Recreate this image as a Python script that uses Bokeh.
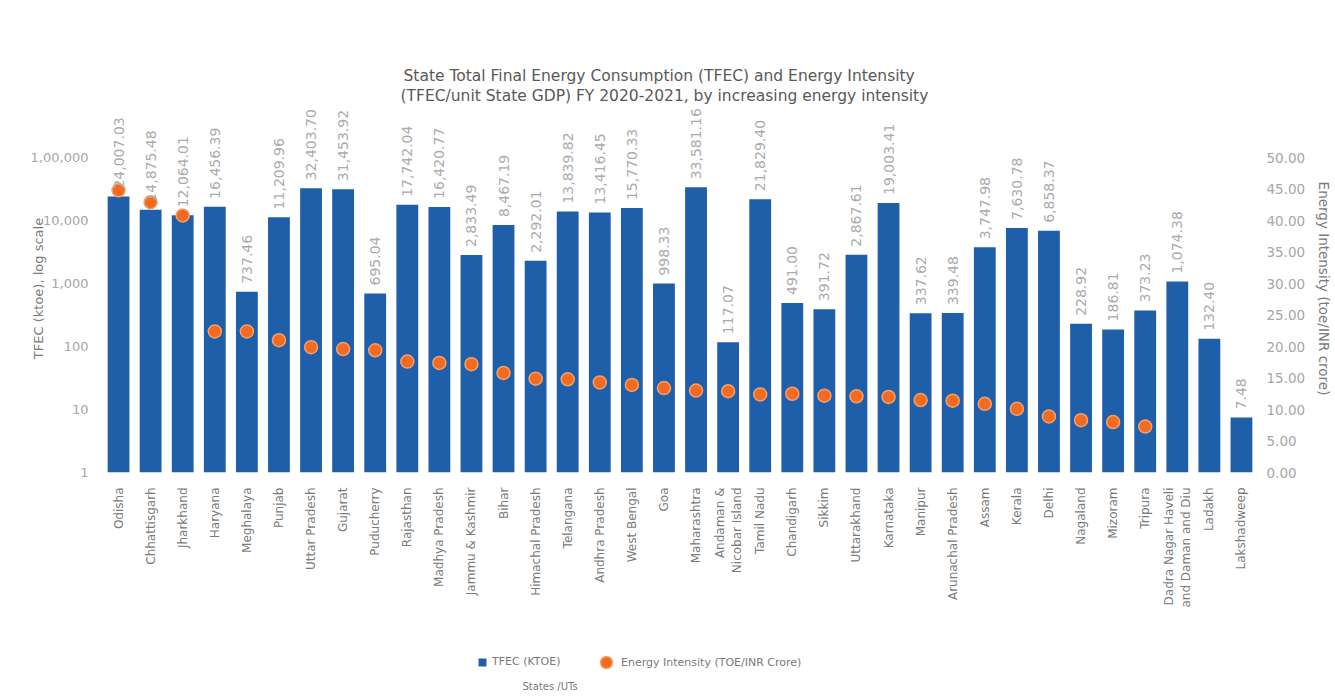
import math
from bokeh.plotting import figure
from bokeh.layouts import column
from bokeh.models import (ColumnDataSource, Range1d, LinearAxis, LinearScale,
                          FixedTicker, NumeralTickFormatter, LabelSet, Legend,
                          LegendItem, Title, Label, FactorRange)
from bokeh.core.properties import value
from bokeh.embed import file_html
from bokeh.resources import INLINE

states = [
    "Odisha", "Chhattisgarh", "Jharkhand", "Haryana", "Meghalaya", "Punjab",
    "Uttar Pradesh", "Gujarat", "Puducherry", "Rajasthan", "Madhya Pradesh",
    "Jammu & Kashmir", "Bihar", "Himachal Pradesh", "Telangana",
    "Andhra Pradesh", "West Bengal", "Goa", "Maharashtra",
    "Andaman &\nNicobar Island", "Tamil Nadu", "Chandigarh", "Sikkim",
    "Uttarakhand", "Karnataka", "Manipur", "Arunachal Pradesh", "Assam",
    "Kerala", "Delhi", "Nagaland", "Mizoram", "Tripura",
    "Dadra Nagar Haveli\nand Daman and Diu", "Ladakh", "Lakshadweep",
]

tfec = [
    24007.03, 14875.48, 12064.01, 16456.39, 737.46, 11209.96,
    32403.70, 31453.92, 695.04, 17742.04, 16420.77,
    2833.49, 8467.19, 2292.01, 13839.82,
    13416.45, 15770.33, 998.33, 33581.16,
    117.07, 21829.40, 491.00, 391.72,
    2867.61, 19003.41, 337.62, 339.48, 3747.98,
    7630.78, 6858.37, 228.92, 186.81, 373.23,
    1074.38, 132.40, 7.48,
]

# Energy intensity (toe / INR crore); the last three states have no value
intensity = [
    44.8, 42.9, 40.8, 22.4, 22.4, 21.0,
    19.9, 19.6, 19.4, 17.6, 17.4,
    17.2, 15.8, 14.9, 14.8,
    14.3, 13.9, 13.4, 13.0,
    12.9, 12.4, 12.5, 12.2,
    12.1, 12.0, 11.5, 11.4, 10.9,
    10.1, 8.9, 8.3, 8.0, 7.3,
]

left_ticks = [1, 10, 100, 1000, 10000, 100000]
left_tick_labels = ["1", "10", "100", "1,000", "10,000", "1,00,000"]
right_ticks = [0, 5, 10, 15, 20, 25, 30, 35, 40, 45, 50]

FONT = "DejaVu Sans"
BAR_COLOR = "#1f5ea8"
DOT_COLOR = "#f26b21"
DOT_EDGE = "#f5a06a"

# Head-room above the top ticks so that the value labels fit inside the frame
HEADROOM = 53 / 315  # fraction of the tick span
left_end = 10 ** (5 * (1 + HEADROOM))
right_end = 50 * (1 + HEADROOM)

bar_src = ColumnDataSource(dict(
    state=states,
    tfec=tfec,
    label=[f"{v:,.2f}" for v in tfec],
))
dot_src = ColumnDataSource(dict(
    state=states[:len(intensity)],
    ei=intensity,
))

p = figure(
    width=1335, height=610,
    x_range=FactorRange(*states, range_padding=0),
    y_axis_type="log", y_range=Range1d(1, left_end),
    output_backend="svg", toolbar_location=None,
    min_border_left=102, min_border_right=75,
    min_border_top=104, min_border_bottom=138,
)
p.extra_y_ranges = {"ei": Range1d(0, right_end)}
p.extra_y_scales = {"ei": LinearScale()}

bars = p.vbar(x="state", top="tfec", bottom=1, width=0.68, source=bar_src,
              fill_color=BAR_COLOR, line_color=None)
dots = p.scatter(x="state", y="ei", source=dot_src, y_range_name="ei",
                 size=13, fill_color=DOT_COLOR, line_color=DOT_EDGE,
                 line_width=1.5)

labels = LabelSet(x="state", y="tfec", text="label", source=bar_src,
                  angle=math.pi / 2, text_align="left", text_baseline="middle",
                  y_offset=8, text_font=value(FONT), text_font_size="14px",
                  text_color="#ababab")
p.add_layout(labels)

p.xgrid.visible = False
p.ygrid.visible = False
p.outline_line_color = None

xa = p.xaxis[0]
xa.major_label_orientation = math.pi / 2
xa.axis_line_color = None
xa.major_tick_line_color = None
xa.minor_tick_line_color = None
xa.major_label_text_font = FONT
xa.major_label_text_font_size = "12px"
xa.major_label_text_color = "#7a7a7a"
xa.major_label_standoff = 9

ya = p.yaxis[0]
ya.ticker = FixedTicker(ticks=left_ticks)
ya.major_label_overrides = {t: s for t, s in zip(left_ticks, left_tick_labels)}
ya.axis_line_color = None
ya.major_tick_line_color = None
ya.minor_tick_line_color = None
ya.major_label_text_font = FONT
ya.major_label_text_font_size = "13px"
ya.major_label_text_color = "#a6a6a6"
ya.major_label_standoff = 8
ya.axis_label = "TFEC (ktoe), log scale"
ya.axis_label_text_font = FONT
ya.axis_label_text_font_size = "13px"
ya.axis_label_text_font_style = "normal"
ya.axis_label_text_color = "#7a7a7a"
ya.axis_label_standoff = -18

ra = LinearAxis(y_range_name="ei", ticker=FixedTicker(ticks=right_ticks),
                formatter=NumeralTickFormatter(format="0.00"))
ra.axis_line_color = None
ra.major_tick_line_color = None
ra.minor_tick_line_color = None
ra.major_label_text_font = FONT
ra.major_label_text_font_size = "13.5px"
ra.major_label_text_color = "#a6a6a6"
ra.major_label_standoff = 3
ra.axis_label = "Energy Intensity (toe/INR crore)"
ra.axis_label_text_font = FONT
ra.axis_label_text_font_size = "13.5px"
ra.axis_label_text_font_style = "normal"
ra.axis_label_text_color = "#7a7a7a"
ra.axis_label_standoff = 8
p.add_layout(ra, "right")

# Titles (first added sits nearest to the frame)
t2 = Title(text="(TFEC/unit State GDP) FY 2020-2021, by increasing energy intensity",
           align="left", offset=298, text_font=FONT, text_font_size="15.5px",
           text_font_style="normal", text_color="#595959", standoff=0)
t1 = Title(text="State Total Final Energy Consumption (TFEC) and Energy Intensity",
           align="left", offset=301, text_font=FONT, text_font_size="15.5px",
           text_font_style="normal", text_color="#595959", standoff=0)
p.add_layout(t2, "above")
p.add_layout(t1, "above")

# ---- footer: legend and x-axis title ----
f = figure(width=1335, height=86, x_range=FactorRange(*states, range_padding=0),
           y_range=Range1d(0, 1), output_backend="svg", toolbar_location=None,
           x_axis_location=None, y_axis_location=None, min_border=0)
f.grid.visible = False
f.outline_line_color = None
# hidden proxies of the two series, used only for the legend keys
lg_bar = f.vbar(x="state", top="tfec", bottom=1, width=0.68, source=bar_src,
                fill_color=BAR_COLOR, line_color=None, visible=False)
lg_dot = f.scatter(x="state", y="ei", source=dot_src, size=13,
                   fill_color=DOT_COLOR, line_color=DOT_EDGE, line_width=1.5,
                   visible=False)


def style_legend(lg):
    lg.label_text_font = FONT
    lg.label_text_font_size = "11px"
    lg.label_text_color = "#7a7a7a"
    lg.border_line_color = None
    lg.background_fill_alpha = 0
    lg.inactive_fill_alpha = 0
    lg.padding = 0
    lg.margin = 0


legend_bar = Legend(items=[LegendItem(label="TFEC (KTOE)", renderers=[lg_bar])],
                    orientation="horizontal", location=(375, 28))
style_legend(legend_bar)
legend_bar.glyph_width = 10
legend_bar.glyph_height = 10
legend_bar.label_height = 10
legend_bar.label_standoff = 5
f.add_layout(legend_bar)

legend_dot = Legend(items=[LegendItem(label="Energy Intensity (TOE/INR Crore)",
                                      renderers=[lg_dot])],
                    orientation="horizontal", location=(489, 19))
style_legend(legend_dot)
legend_dot.glyph_width = 30
legend_dot.glyph_height = 30
legend_dot.label_height = 30
legend_dot.label_standoff = 0
f.add_layout(legend_dot)

xtitle = Label(x=420, y=10, x_units="screen", y_units="screen",
               text="States /UTs", text_align="left", text_baseline="middle",
               text_font=FONT, text_font_size="10px", text_color="#7a7a7a")
f.add_layout(xtitle)

layout = column(p, f, spacing=0)
open("out.html", "w").write(file_html(layout, INLINE))
